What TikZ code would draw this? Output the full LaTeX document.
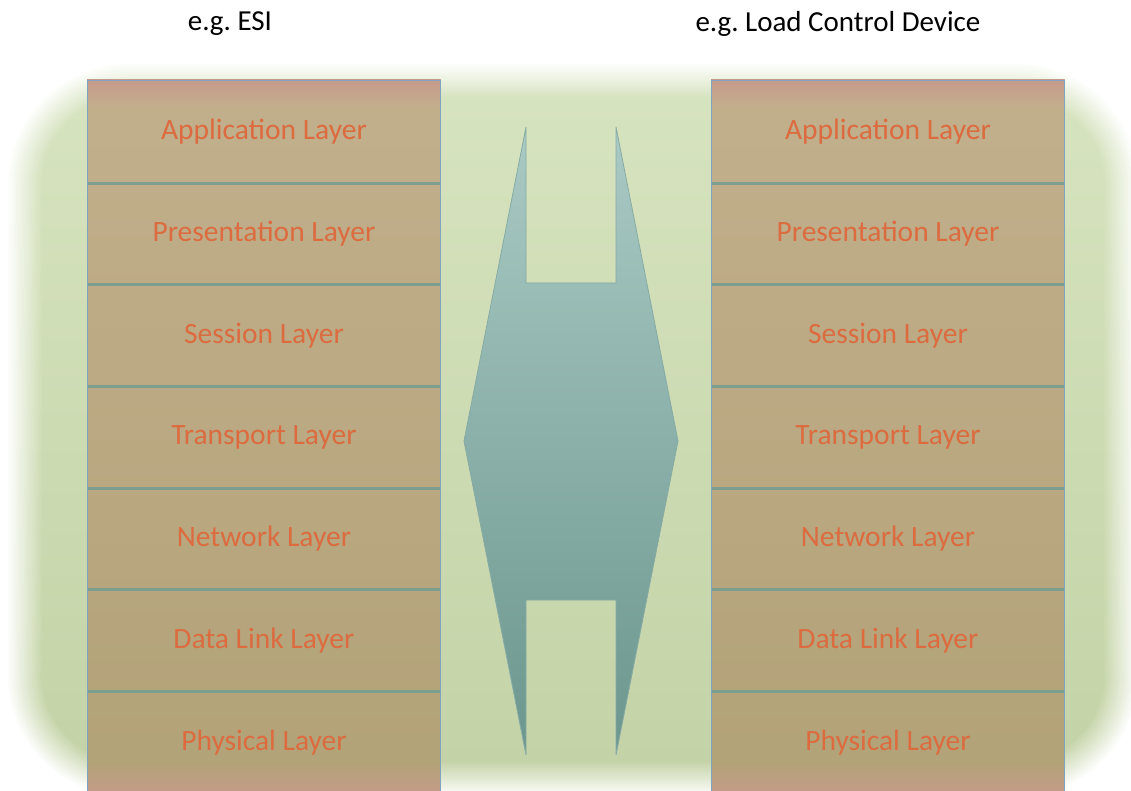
\documentclass[tikz,border=0pt]{standalone}
\usepackage{fontspec}
\setmainfont{Carlito}

\definecolor{bgtop}{HTML}{D6E3BF}
\definecolor{bgbot}{HTML}{C4D3A7}
\definecolor{coltop}{HTML}{C2AF8C}
\definecolor{colbot}{HTML}{B2A277}
\definecolor{colpink}{HTML}{C69B8B}
\definecolor{colline}{HTML}{7C9E8F}
\definecolor{colframe}{HTML}{7EA4C2}
\definecolor{layertext}{HTML}{DC6B40}
\definecolor{arrtop}{HTML}{AACAC4}
\definecolor{arrbot}{HTML}{6B968E}
\definecolor{arredge}{HTML}{86ABA5}

\tikzset{
  layer/.style={minimum width=353.5pt, minimum height=101.7pt, inner sep=0pt,
    anchor=north west, text=layertext, font=\fontsize{29.5}{35}\selectfont},
  divider/.style={draw=colline, line width=3pt},
  colframe/.style={draw=colframe, line width=1pt},
  title/.style={inner sep=0pt, text=black, font=\fontsize{29}{35}\selectfont},
  link/.style={top color=arrtop, bottom color=arrbot, draw=arredge, line width=0.8pt},
}

\begin{document}
\frenchspacing
\begin{tikzpicture}[x=1pt, y=-1pt]
\useasboundingbox (0,0) rectangle (1131,791);
\clip (0,0) rectangle (1131,791);

% soft-edged rounded panel: a ramp of translucent shaded insets ending opaque
\foreach \i in {0,...,17}{
  \pgfmathsetmacro\rr{120-2*\i}
  \pgfmathsetmacro\aa{1/(18-\i)}
  \shade[top color=bgtop, bottom color=bgbot, opacity=\aa, rounded corners=\rr pt]
    ({8+2*\i},{64+2*\i}) rectangle ({1138-2*\i},{796-2*\i});
}

% two seven-layer stacks
\foreach \side/\x in {l/87, r/711}{
  \shade[top color=coltop, bottom color=colbot] (\x,80) rectangle ++(353.5,720);
  \shade[top color=colpink, bottom color=coltop] (\x,80) rectangle ++(353.5,28);
  \shade[top color=colbot, bottom color=colpink] (\x,762) rectangle ++(353.5,32);
  \foreach \name [count=\k from 0] in {Application, Presentation, Session,
      Transport, Network, Data Link, Physical}{
    \node[layer] (\side\k) at (\x,{81+101.7*\k}) {\name\ Layer};
  }
  \foreach \k in {0,...,5}{
    \draw[divider] (\side\k.south west) -- (\side\k.south east);
  }
  \draw[colframe] (\side6.south west) -- (\side0.north west)
    -- (\side0.north east) -- (\side6.south east);
}

% two-headed notched arrow between the stacks
\shadedraw[link] (526,127) -- (526,283) -- (616,283) -- (616,127)
  -- (678,441) -- (616,755) -- (616,600) -- (526,600) -- (526,755)
  -- (464,441) -- cycle;

% captions
\node[title] (esi) at (230,24) {e.g. ESI};
\node[title] (lcd) at (838,24) {e.g. Load Control Device};
\end{tikzpicture}
\end{document}
